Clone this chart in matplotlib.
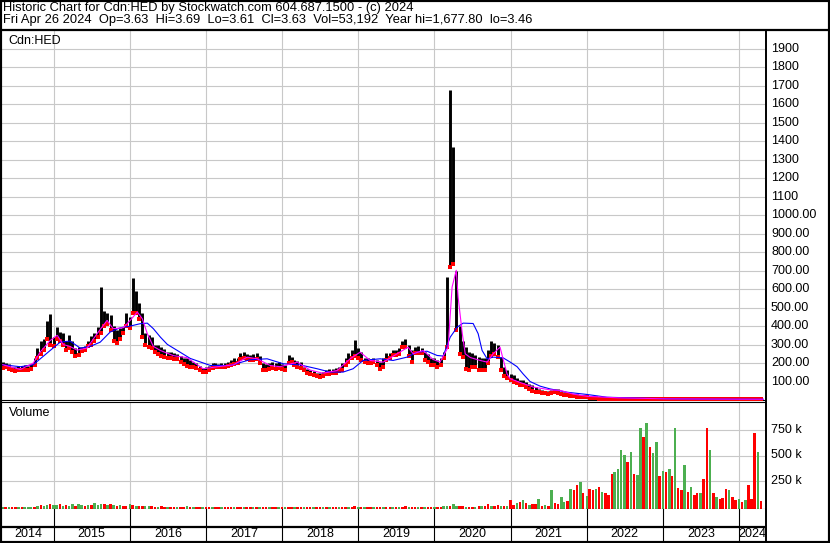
import matplotlib
matplotlib.use("Agg")
import matplotlib.pyplot as plt
import matplotlib.dates as mdates
from matplotlib.lines import Line2D
from matplotlib.transforms import blended_transform_factory
import numpy as np
import pandas as pd

plt.rcParams['font.family'] = ['Liberation Sans', 'DejaVu Sans']

TITLE = "Historic Chart for Cdn:HED by Stockwatch.com 604.687.1500 - (c) 2024"
SUBTITLE = "Fri Apr 26 2024  Op=3.63  Hi=3.69  Lo=3.61  Cl=3.63  Vol=53,192  Year hi=1,677.80  lo=3.46"

# price bars, one per half month (1st and 15th), starting May 2014
bar_start = "2014-05-01"
lo = [175, 178, 170, 160, 158, 160, 165, 162, 165, 170, 190, 230,
      250, 270, 330, 300, 290, 330, 320, 300, 270, 280, 260, 240,
      245, 265, 270, 290, 300, 320, 340, 360, 400, 410, 380, 320,
      310, 330, 360, 400, 390, 470, 470, 440, 340, 300, 285, 280,
      260, 250, 240, 235, 225, 230, 220, 220, 205, 195, 185, 180,
      178, 175, 160, 150, 152, 160, 175, 178, 176, 178, 180, 182,
      190, 195, 200, 220, 225, 220, 214, 215, 220, 200, 165, 165,
      170, 175, 170, 172, 168, 165, 200, 205, 190, 180, 175, 160,
      145, 142, 135, 128, 127, 130, 140, 142, 145, 148, 155, 165,
      190, 205, 225, 240, 230, 215, 205, 200, 200, 205, 190, 170,
      180, 214, 225, 241, 245, 250, 286, 285, 240, 205, 252, 255,
      252, 215, 205, 190, 187, 178, 190, 230, 286, 720, 738, 377,
      250, 232, 170, 160, 180, 178, 165, 160, 165, 200, 240, 250,
      232, 160, 130, 120, 106, 100, 90, 80, 79, 70, 60, 50,
      45, 42, 38, 36, 34, 38, 42, 40, 32, 28, 25, 22,
      20, 18, 16, 15, 14, 12, 10, 9, 8, 8, 7, 7,
      6, 6, 6, 6, 5.5, 5.5, 5, 5, 5, 4.8, 4.8, 4.5,
      4.5, 4.5, 4.4, 4.4, 4.3, 4.3, 4.2, 4.2, 4.1, 4.1, 4, 4,
      4, 4, 3.9, 3.9, 3.9, 3.8, 3.8, 3.8, 3.8, 3.7, 3.7, 3.7,
      3.7, 3.6, 3.6, 3.6, 3.6, 3.5, 3.5, 3.5, 3.5, 3.5, 3.5, 3.5]
hi = [205, 200, 195, 180, 178, 182, 185, 190, 185, 195, 230, 280,
      320, 330, 430, 463, 340, 395, 370, 360, 320, 350, 320, 280,
      285, 285, 290, 320, 345, 360, 395, 611, 480, 470, 460, 400,
      380, 390, 395, 470, 450, 658, 590, 525, 470, 360, 350, 340,
      300, 295, 285, 275, 260, 258, 255, 250, 240, 230, 225, 215,
      205, 200, 185, 175, 178, 185, 198, 198, 196, 198, 200, 205,
      215, 225, 230, 255, 260, 250, 245, 250, 255, 240, 200, 195,
      200, 205, 200, 205, 195, 190, 241, 235, 215, 210, 205, 180,
      170, 165, 155, 148, 145, 150, 165, 170, 168, 172, 178, 200,
      230, 255, 268, 326, 280, 260, 230, 225, 222, 225, 215, 205,
      230, 252, 255, 268, 270, 280, 320, 332, 300, 268, 286, 290,
      280, 260, 250, 225, 225, 214, 230, 260, 666, 1678, 1370, 700,
      400, 322, 286, 260, 252, 245, 232, 225, 230, 268, 322, 306,
      300, 232, 178, 160, 143, 135, 120, 110, 106, 100, 85, 79,
      70, 62, 55, 50, 48, 55, 62, 58, 45, 42, 38, 36,
      32, 30, 28, 25, 22, 20, 18, 16, 15, 14, 13, 12,
      11, 10, 10, 10, 9, 9, 8.5, 8, 8, 8, 7.5, 7.5,
      7, 7, 7, 6.5, 6.5, 6.5, 6, 6, 6, 6, 5.8, 5.8,
      5.5, 5.5, 5.5, 5.3, 5.3, 5.2, 5, 5, 5, 5, 4.8, 4.8,
      4.6, 4.6, 4.5, 4.5, 4.4, 4.3, 4.2, 4.2, 4.1, 4, 3.9, 3.8]

# volume in thousands, same half-month bars
vol_k = [1, 1, 2, 1, 1, 2, 1, 2, 3, 2, 3, 12,
         18, 10, 22, 25, 20, 15, 28, 12, 18, 10, 25, 14,
         30, 16, 12, 20, 22, 35, 18, 25, 28, 15, 30, 20,
         12, 18, 14, 10, 25, 15, 12, 10, 8, 12, 6, 5,
         4, 3, 5, 2, 3, 4, 2, 3, 2, 3, 8, 2,
         3, 2, 1, 2, 3, 1, 2, 2, 1, 3, 2, 1,
         2, 3, 2, 4, 3, 2, 1, 2, 3, 2, 1, 2,
         2, 3, 1, 2, 2, 1, 3, 2, 2, 1, 2, 3,
         2, 1, 2, 3, 2, 1, 2, 2, 3, 1, 2, 3,
         4, 2, 3, 5, 3, 2, 2, 1, 3, 2, 2, 3,
         2, 3, 2, 3, 4, 2, 3, 5, 2, 3, 2, 3,
         2, 3, 2, 1, 2, 1, 2, 5, 6, 8, 30, 10,
         14, 6, 3, 2, 4, 2, 5, 8, 14, 30, 10, 14,
         20, 12, 14, 10, 63, 20, 35, 47, 63, 40, 20, 30,
         25, 80, 14, 20, 14, 161, 40, 30, 96, 50, 60, 177,
         161, 210, 242, 140, 110, 170, 160, 177, 193, 150, 140, 120,
         324, 340, 373, 552, 503, 440, 536, 324, 307, 764, 682, 813,
         585, 520, 634, 300, 350, 340, 373, 300, 764, 180, 160, 405,
         150, 190, 120, 140, 140, 275, 764, 552, 140, 100, 80, 90,
         177, 161, 96, 63, 80, 47, 70, 210, 80, 715, 536, 60]
vol_col = ("grgrrgrgggrgrggrggrgrggr"
           "ggrgrgggrgrgrgrrgrgrrggr"
           "rgrrgrrgrrgrgrrgrrgrrgrr"
           "rgrrgrrgrgrrgrrgrgrrgrrg"
           "rrgrrgrgrrgrrgrrgrgrrgrr"
           "grrgrgrrgrrgrgrrgrrggrgg"
           "rrgrrgrgrrgrrgrgrrgrgrgr"
           "rgrgrgrrggrgrrgrgrrgrgrr"
           "rggggrgrggrgrggrgrgrgrrg"
           "rgrrgrrgrgrrrgrrgrgrrrgr")

# moving averages
blue_dates = ["2014-05-01", "2014-07-25", "2014-09-25", "2014-12-15", "2015-02-01",
              "2015-03-20", "2015-04-14", "2015-05-08", "2015-06-25", "2015-08-12",
              "2015-09-29", "2015-11-16", "2016-01-03", "2016-02-20", "2016-03-25",
              "2016-04-23", "2016-05-27", "2016-06-29", "2016-08-16", "2016-10-17",
              "2017-01-21", "2017-04-27", "2017-07-31", "2017-10-21", "2018-01-06",
              "2018-03-28", "2018-06-18", "2018-08-19", "2018-10-20", "2018-12-07",
              "2019-01-24", "2019-04-16", "2019-06-17", "2019-08-23", "2019-10-10",
              "2019-11-27", "2020-01-14", "2020-02-12", "2020-03-17", "2020-04-20",
              "2020-05-18", "2020-07-05", "2020-07-29", "2020-08-17", "2020-09-10",
              "2020-10-09", "2020-11-26", "2020-12-30", "2021-02-01", "2021-03-01",
              "2021-04-04", "2021-05-22", "2021-07-09", "2021-09-29", "2022-01-02",
              "2022-04-08", "2022-08-11", "2023-01-21", "2023-06-28", "2024-04-26"]
blue_ma = [191, 180, 191, 268, 313, 319, 300, 281, 290, 313,
           368, 391, 400, 413, 416, 386, 340, 301, 268, 225,
           187, 187, 218, 223, 196, 190, 169, 151, 151, 169,
           214, 223, 214, 232, 259, 264, 241, 238, 340, 395,
           416, 414, 359, 268, 223, 232, 228, 205, 180, 142,
           100, 75, 60, 42, 30, 15, 11, 7, 5, 4]
pink_dates = ["2014-05-01", "2014-07-25", "2014-09-25", "2014-10-28", "2014-12-15",
              "2015-01-18", "2015-02-16", "2015-03-20", "2015-04-23", "2015-06-10",
              "2015-07-28", "2015-09-14", "2015-10-13", "2015-11-30", "2016-01-03",
              "2016-02-06", "2016-03-01", "2016-03-25", "2016-04-23", "2016-05-27",
              "2016-07-28", "2016-10-02", "2016-12-18", "2017-02-24", "2017-05-12",
              "2017-07-17", "2017-09-03", "2017-11-04", "2017-12-22", "2018-03-14",
              "2018-05-15", "2018-07-16", "2018-09-22", "2018-11-23", "2019-01-10",
              "2019-02-27", "2019-05-01", "2019-07-06", "2019-08-28", "2019-09-21",
              "2019-11-08", "2019-12-25", "2020-01-28", "2020-03-07", "2020-03-26",
              "2020-04-15", "2020-04-24", "2020-05-14", "2020-05-28", "2020-06-21",
              "2020-08-08", "2020-09-10", "2020-10-09", "2020-11-11", "2020-11-26",
              "2020-12-15", "2020-12-30", "2021-02-15", "2021-04-19", "2021-07-09",
              "2021-08-26", "2021-10-28", "2022-01-02", "2022-05-26", "2023-01-21",
              "2024-04-26"]
pink_ma = [191, 165, 200, 259, 322, 350, 300, 290, 270, 281,
           359, 431, 386, 391, 431, 476, 440, 359, 290, 268,
           240, 229, 169, 180, 190, 232, 223, 187, 180, 205,
           162, 145, 160, 223, 259, 214, 205, 250, 286, 250,
           268, 220, 205, 286, 611, 702, 557, 359, 250, 230,
           214, 205, 250, 286, 220, 140, 115, 95, 70, 55,
           52, 32, 20, 12, 6, 4]

price_ticks = [100, 200, 300, 400, 500, 600, 700, 800, 900, 1000,
               1100, 1200, 1300, 1400, 1500, 1600, 1700, 1800, 1900]
price_labels = ["100.00", "200.00", "300.00", "400.00", "500.00", "600.00",
                "700.00", "800.00", "900.00", "1000.00",
                "1100", "1200", "1300", "1400", "1500", "1600", "1700", "1800", "1900"]
vol_ticks = [250000, 500000, 750000]
vol_labels = ["250 k", "500 k", "750 k"]
years = list(range(2014, 2025))

W, H = 830, 543
GRID = "#c8c8c8"
GREEN = "#4caf50"
RED = "#ff0000"
FS = 9


def rect(x0, y0, x1, y1):
    # pixel box (top-left origin) -> figure fraction
    return [x0 / W, 1 - y1 / H, (x1 - x0) / W, (y1 - y0) / H]


def main():
    fig = plt.figure(figsize=(W / 100, H / 100), dpi=100)
    fig.patch.set_facecolor("white")

    ax_p = fig.add_axes(rect(2, 31, 765, 400))
    ax_v = fig.add_axes(rect(2, 402, 765, 509))
    ax_x = fig.add_axes(rect(2, 509, 765, 541))

    dates = pd.date_range(bar_start, periods=len(hi), freq="SMS")
    xd = mdates.date2num(dates)
    xmin = mdates.date2num(pd.Timestamp("2014-04-28"))
    xmax = mdates.date2num(pd.Timestamp("2024-05-05"))
    ybounds = [mdates.date2num(pd.Timestamp("%d-01-01" % y)) for y in years[1:]]

    for ax in (ax_p, ax_v, ax_x):
        ax.set_xlim(xmin, xmax)
        ax.set_xticks([])
        ax.set_yticks([])
        for s in ax.spines.values():
            s.set_visible(False)

    # price panel
    ax_p.set_ylim(0, 1997)
    for yb in ybounds:
        ax_p.axvline(yb, color=GRID, lw=0.8, zorder=0)
    for t in price_ticks:
        ax_p.axhline(t, color=GRID, lw=0.8, zorder=0)
    ax_p.vlines(xd, lo, hi, colors="black", lw=2.1, zorder=2)
    ax_p.plot(xd, lo, "s", color=RED, ms=2.2, mew=0, zorder=3)
    ax_p.plot(mdates.date2num(pd.to_datetime(blue_dates)), blue_ma, color="#0000ff", lw=0.8, zorder=4)
    ax_p.plot(mdates.date2num(pd.to_datetime(pink_dates)), pink_ma, color="#ff00ff", lw=0.8, zorder=5)
    ax_p.spines["bottom"].set_visible(True)
    ax_p.spines["bottom"].set_linewidth(0.8)
    trans_p = blended_transform_factory(fig.transFigure, ax_p.transData)
    for t, lab in zip(price_ticks, price_labels):
        ax_p.text(771 / W, t, lab, transform=trans_p, va="center", ha="left", fontsize=FS)
    fig.text(8 / W, 1 - 41 / H, "Cdn:HED", va="center", ha="left", fontsize=FS)

    # volume panel
    vbase = -20000
    ax_v.set_ylim(vbase, 1020000)
    for yb in ybounds:
        ax_v.axvline(yb, color=GRID, lw=0.8, zorder=0)
    for t in vol_ticks:
        ax_v.axhline(t, color=GRID, lw=0.8, zorder=0)
    colors = [GREEN if c == "g" else RED for c in vol_col]
    heights = np.array(vol_k) * 1000.0 - vbase
    ax_v.bar(xd, heights, bottom=vbase, width=12, color=colors, linewidth=0, zorder=2)
    for side in ("top", "bottom"):
        ax_v.spines[side].set_visible(True)
        ax_v.spines[side].set_linewidth(0.8)
    trans_v = blended_transform_factory(fig.transFigure, ax_v.transData)
    for t, lab in zip(vol_ticks, vol_labels):
        ax_v.text(771 / W, t, lab, transform=trans_v, va="center", ha="left", fontsize=FS)
    fig.text(9 / W, 1 - 413 / H, "Volume", va="center", ha="left", fontsize=FS)

    # year strip
    ax_x.set_ylim(0, 1)
    ax_x.axhline((541 - 527) / 32, color="black", lw=1.6)
    for yb in ybounds:
        ax_x.axvline(yb, color="black", lw=0.8)
    edges = [xmin] + ybounds + [xmax]
    for i, y in enumerate(years):
        ax_x.text((edges[i] + edges[i + 1]) / 2, 0.21, str(y), ha="center", va="center", fontsize=FS)

    # header and frame
    fig.text(3 / W, 1 - 8 / H, TITLE, va="center", ha="left", fontsize=9.3)
    fig.text(3 / W, 1 - 20 / H, SUBTITLE, va="center", ha="left", fontsize=9.3)
    fig.add_artist(Line2D([0, 1], [1 - 30 / H] * 2, transform=fig.transFigure, color="black", lw=1.6))
    fig.add_artist(Line2D([765.5 / W] * 2, [0, 1 - 30 / H], transform=fig.transFigure, color="black", lw=1.4))
    fig.add_artist(plt.Rectangle((0, 0), 1, 1, transform=fig.transFigure, fill=False,
                                 edgecolor="black", lw=3))

    fig.savefig("out.png", dpi=100)


if __name__ == "__main__":
    main()
